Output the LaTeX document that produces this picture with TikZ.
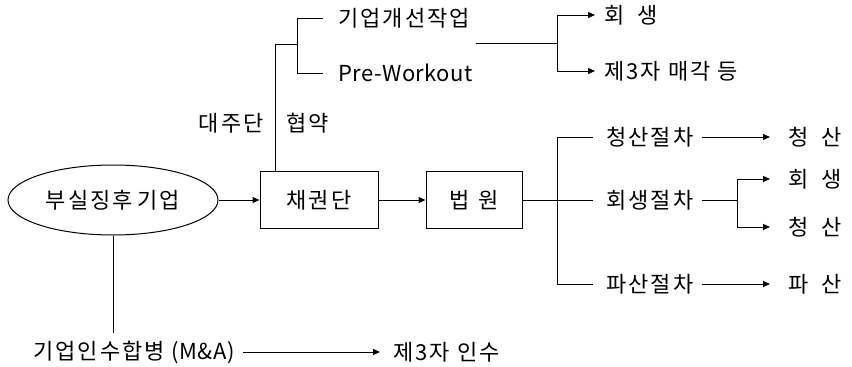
\documentclass[tikz,border=0pt]{standalone}
\usepackage{fontspec}
\setmainfont{Noto Sans CJK KR}[LetterSpace=9]
\newfontfamily\latinfont{Noto Sans CJK KR}[LetterSpace=2]
\usetikzlibrary{shapes.geometric,arrows.meta}
\begin{document}
\begin{tikzpicture}[x=1pt,y=-1pt,
  line width=1pt,
  every node/.style={font=\fontsize{22}{26}\selectfont, inner sep=0pt},
  txt/.style={anchor=west},
  boxnode/.style={draw, rectangle, minimum width=#1, minimum height=57pt},
  arr/.style={-{Triangle[length=7pt,width=6pt]}}
]
\useasboundingbox (0,0) rectangle (852,367);

% main nodes
\node[draw, ellipse, minimum width=210pt, minimum height=70pt] (ell) at (113,200) {부실징후\hspace{-2pt} 기업};
\node[boxnode=118pt] (crd) at (319,200) {채권단};
\node[boxnode=96pt] (court) at (474,200) {법 \hspace{2pt}원};

% texts
\node[txt] (tws) at (338,18) {기업개선작업};
\node[txt] (tpw) at (338,73) {\latinfont Pre-Workout};
\node[txt] (trev1) at (604,15) {회 \hspace{6pt}생};
\node[txt] (tsale) at (604,71) {제3자 매각 등};
\node[anchor=east] (tdj) at (264,123) {대주단};
\node[txt] (thy) at (286,123) {협약};
\node[txt] (tliqp) at (606,137) {청산절차};
\node[txt] (trevp) at (606,200) {회생절차};
\node[txt] (tbkp) at (606,284) {파산절차};
\node[txt] (tliq1) at (788,137) {청 \hspace{6pt}산};
\node[txt] (trev2) at (788,179) {회 \hspace{6pt}생};
\node[txt] (tliq2) at (788,227) {청 \hspace{6pt}산};
\node[txt] (tbk) at (788,284) {파 \hspace{6pt}산};
\node[txt] (tma) at (33,352) {기업인수합병 {\latinfont(M\&A)}};
\node[txt] (t3rd) at (393,352) {제3자 인수};

% junction coordinates
\coordinate (ja) at (275,44);
\coordinate (jb) at (297,44);
\coordinate (jc) at (557,43);
\coordinate (jd) at (557,200);
\coordinate (je) at (737,200);

% main flow
\draw[arr] (ell.east) -- (crd.west);
\draw[arr] (crd.east) -- (court.west);

% workout branch
\draw (crd.north -| ja) -- (ja) -- (jb);
\draw (jb |- tws) -- (jb |- tpw);
\draw (jb |- tws) -- ([xshift=-15pt]tws.west);
\draw (jb |- tpw) -- ([xshift=-15pt]tpw.west);
\draw ([xshift=6pt]tws.east |- jc) -- (jc);
\draw (jc |- trev1) -- (jc |- tsale);
\draw[arr] (jc |- trev1) -- ([xshift=-9pt]trev1.west);
\draw[arr] (jc |- tsale) -- ([xshift=-9pt]tsale.west);

% court branch
\draw (court.east) -- (jd);
\draw (jd |- tliqp) -- (jd |- tbkp);
\draw (jd |- tliqp) -- ([xshift=-13pt]tliqp.west);
\draw (jd |- trevp) -- ([xshift=-13pt]trevp.west);
\draw (jd |- tbkp) -- ([xshift=-13pt]tbkp.west);
\draw[arr] ([xshift=8pt]tliqp.east) -- ([xshift=-18pt]tliq1.west);
\draw ([xshift=8pt]trevp.east) -- (je);
\draw (je |- trev2) -- (je |- tliq2);
\draw[arr] (je |- trev2) -- ([xshift=-18pt]trev2.west);
\draw[arr] (je |- tliq2) -- ([xshift=-18pt]tliq2.west);
\draw[arr] ([xshift=8pt]tbkp.east) -- ([xshift=-18pt]tbk.west);

% M&A branch
\draw (ell.south) -- (ell.south |- 0,333);
\draw[arr] ([xshift=8pt]tma.east) -- ([xshift=-13pt]t3rd.west);
\end{tikzpicture}
\end{document}
